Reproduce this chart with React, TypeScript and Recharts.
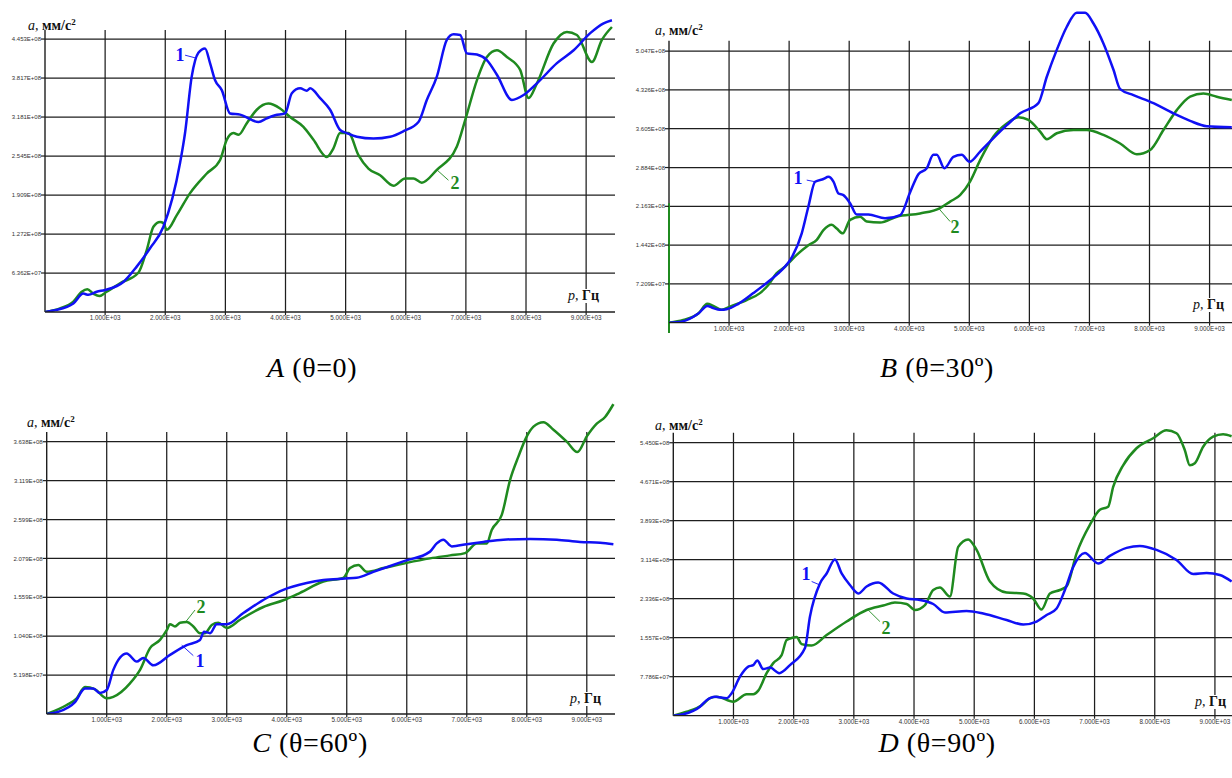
import React from 'react';
import { LineChart, Line, XAxis, YAxis, CartesianGrid, ReferenceLine } from 'recharts';

// Frequency p, Hz; acceleration a in units of 1e8 mm/s^2
type Pt = [number, number];

const X_TICKS = [1000, 2000, 3000, 4000, 5000, 6000, 7000, 8000, 9000];
const X_TICK_LABELS = ['1.000E+03', '2.000E+03', '3.000E+03', '4.000E+03', '5.000E+03', '6.000E+03', '7.000E+03', '8.000E+03', '9.000E+03'];

const A_Y_TICKS = [0.6362, 1.2724, 1.9086, 2.5448, 3.181, 3.8172, 4.4534];
const A_Y_LABELS = ['6.362E+07', '1.272E+08', '1.909E+08', '2.545E+08', '3.181E+08', '3.817E+08', '4.453E+08'];
const B_Y_TICKS = [0.7209, 1.4418, 2.1627, 2.8836, 3.6045, 4.3254, 5.0463];
const B_Y_LABELS = ['7.209E+07', '1.442E+08', '2.163E+08', '2.884E+08', '3.605E+08', '4.326E+08', '5.047E+08'];
const C_Y_TICKS = [0.5198, 1.0396, 1.5594, 2.0792, 2.599, 3.1188, 3.6386];
const C_Y_LABELS = ['5.198E+07', '1.040E+08', '1.559E+08', '2.079E+08', '2.599E+08', '3.119E+08', '3.638E+08'];
const D_Y_TICKS = [0.7786, 1.5572, 2.3358, 3.1144, 3.893, 4.6716, 5.4502];
const D_Y_LABELS = ['7.786E+07', '1.557E+08', '2.336E+08', '3.114E+08', '3.893E+08', '4.671E+08', '5.450E+08'];

const A_BLUE: Pt[] = [[0,0],[166,0.03],[471,0.14],[637,0.30],[720,0.28],[860,0.33],[998,0.36],[1303,0.49],[1525,0.74],[1747,1.04],[1969,1.39],[2246,2.43],[2329,2.92],[2440,3.84],[2551,4.23],[2662,4.30],[2745,4.06],[2829,3.78],[2940,3.62],[3078,3.24],[3245,3.22],[3550,3.10],[3689,3.16],[3827,3.21],[3993,3.24],[4105,3.57],[4243,3.65],[4354,3.61],[4409,3.65],[4576,3.49],[4742,3.30],[4909,2.97],[5020,2.92],[5186,2.86],[5463,2.83],[5740,2.86],[5962,2.95],[6211,3.10],[6350,3.46],[6517,3.84],[6683,4.44],[6794,4.53],[6905,4.52],[7016,4.22],[7183,4.20],[7349,4.11],[7516,3.87],[7765,3.46],[7960,3.54],[8181,3.73],[8514,4.06],[8792,4.27],[9068,4.55],[9290,4.71],[9429,4.76]];
const A_GREEN: Pt[] = [[0,0],[250,0.06],[471,0.17],[611,0.33],[704,0.37],[804,0.30],[904,0.26],[1026,0.33],[1248,0.47],[1553,0.64],[1692,1.01],[1803,1.39],[1914,1.47],[1969,1.45],[2025,1.34],[2192,1.58],[2413,1.94],[2691,2.26],[2912,2.48],[3023,2.81],[3134,2.92],[3218,2.89],[3356,3.08],[3522,3.30],[3716,3.40],[3910,3.32],[4077,3.18],[4298,3.02],[4465,2.81],[4687,2.53],[4797,2.67],[4908,2.92],[5047,2.92],[5213,2.56],[5379,2.34],[5574,2.23],[5796,2.06],[5990,2.18],[6128,2.18],[6267,2.11],[6517,2.32],[6850,2.70],[6988,3.13],[7183,3.78],[7349,4.16],[7516,4.27],[7682,4.16],[7903,3.95],[8042,3.49],[8181,3.73],[8458,4.38],[8680,4.57],[8846,4.52],[9096,4.08],[9262,4.44],[9429,4.65]];

const B_BLUE: Pt[] = [[0,0],[211,0.02],[488,0.17],[638,0.31],[738,0.27],[849,0.24],[960,0.25],[1154,0.35],[1404,0.55],[1682,0.79],[1904,1.01],[2015,1.16],[2210,1.66],[2321,2.16],[2432,2.62],[2571,2.67],[2654,2.71],[2738,2.62],[2821,2.40],[2904,2.37],[3015,2.22],[3126,2.01],[3320,2.01],[3597,1.94],[3850,2.00],[4013,2.42],[4152,2.76],[4291,2.87],[4402,3.12],[4458,3.12],[4585,2.87],[4735,3.08],[4874,3.12],[5002,2.99],[5180,3.18],[5402,3.43],[5624,3.67],[5846,3.89],[6150,4.08],[6290,4.57],[6456,5.07],[6623,5.50],[6789,5.76],[6928,5.76],[7067,5.56],[7233,5.19],[7400,4.70],[7511,4.34],[7733,4.23],[8066,4.08],[8399,3.89],[8676,3.75],[8954,3.65],[9370,3.63]];
const B_GREEN: Pt[] = [[0,0],[238,0.05],[488,0.17],[638,0.35],[738,0.31],[877,0.24],[1015,0.30],[1293,0.42],[1515,0.55],[1654,0.70],[1793,0.92],[1932,1.04],[2126,1.26],[2321,1.44],[2460,1.54],[2571,1.72],[2710,1.82],[2793,1.75],[2893,1.66],[3015,1.91],[3182,1.97],[3293,1.88],[3515,1.86],[3792,1.97],[4180,2.03],[4513,2.13],[4680,2.25],[4846,2.37],[5012,2.62],[5180,3.02],[5402,3.46],[5624,3.70],[5818,3.82],[5985,3.77],[6179,3.55],[6290,3.41],[6456,3.52],[6734,3.58],[6956,3.58],[7233,3.49],[7511,3.33],[7789,3.13],[8010,3.21],[8232,3.58],[8454,3.95],[8676,4.20],[8898,4.26],[9120,4.20],[9370,4.14]];

const C_BLUE: Pt[] = [[0,0],[194,0.03],[472,0.16],[638,0.34],[777,0.34],[888,0.28],[1000,0.32],[1110,0.59],[1333,0.81],[1500,0.70],[1610,0.75],[1777,0.65],[2055,0.79],[2333,0.92],[2555,0.99],[2622,1.10],[2722,1.08],[2833,1.20],[3000,1.20],[3277,1.35],[3666,1.55],[3943,1.66],[4333,1.75],[4610,1.79],[4972,1.81],[5166,1.82],[5443,1.90],[5943,2.04],[6388,2.17],[6500,2.28],[6610,2.33],[6750,2.24],[7000,2.27],[7277,2.30],[7610,2.33],[8055,2.34],[8500,2.33],[8888,2.30],[9222,2.29],[9443,2.27]];
const C_GREEN: Pt[] = [[0,0],[333,0.12],[500,0.21],[638,0.36],[805,0.33],[1000,0.21],[1110,0.23],[1388,0.41],[1555,0.59],[1722,0.88],[1888,0.99],[2000,1.12],[2055,1.20],[2138,1.17],[2222,1.22],[2333,1.23],[2444,1.17],[2555,1.08],[2638,1.08],[2750,1.19],[2861,1.22],[3000,1.15],[3222,1.26],[3610,1.43],[3943,1.52],[4222,1.62],[4610,1.77],[4943,1.82],[5055,1.95],[5194,1.99],[5333,1.90],[5610,1.95],[6000,2.02],[6388,2.08],[6722,2.12],[6971,2.15],[7166,2.28],[7333,2.28],[7416,2.46],[7583,2.66],[7722,3.13],[7860,3.44],[8000,3.71],[8111,3.84],[8277,3.90],[8444,3.80],[8666,3.64],[8843,3.50],[9000,3.71],[9166,3.88],[9305,3.97],[9443,4.14]];

const D_BLUE: Pt[] = [[0,0],[166,0.03],[443,0.18],[554,0.31],[692,0.38],[887,0.35],[970,0.45],[1108,0.78],[1246,0.98],[1329,1.01],[1395,1.10],[1495,0.93],[1606,0.96],[1761,0.85],[1938,1.01],[2188,1.35],[2271,1.98],[2437,2.64],[2548,2.84],[2686,3.12],[2797,2.84],[2935,2.61],[3073,2.44],[3212,2.58],[3405,2.66],[3654,2.44],[3877,2.34],[4098,2.31],[4319,2.23],[4513,2.06],[4873,2.09],[5150,2.04],[5538,1.91],[5814,1.82],[6037,1.88],[6203,2.01],[6369,2.14],[6507,2.51],[6645,2.97],[6839,3.25],[7060,3.04],[7254,3.19],[7532,3.35],[7753,3.39],[8030,3.31],[8362,3.11],[8638,2.83],[8860,2.85],[9082,2.81],[9277,2.68]];
const D_GREEN: Pt[] = [[0,0],[222,0.08],[472,0.21],[610,0.35],[721,0.38],[997,0.28],[1219,0.43],[1329,0.43],[1412,0.50],[1551,0.85],[1661,1.05],[1800,1.21],[1883,1.51],[1993,1.56],[2049,1.57],[2132,1.43],[2298,1.40],[2548,1.61],[2880,1.88],[3212,2.11],[3488,2.20],[3682,2.26],[3877,2.23],[4015,2.11],[4181,2.21],[4319,2.51],[4430,2.56],[4596,2.38],[4734,3.37],[4900,3.52],[5040,3.31],[5261,2.68],[5538,2.46],[5814,2.44],[5980,2.34],[6119,2.12],[6258,2.44],[6424,2.51],[6535,2.58],[6701,3.24],[6922,3.81],[7088,4.11],[7226,4.17],[7309,4.57],[7475,5.00],[7697,5.34],[7973,5.54],[8195,5.70],[8362,5.64],[8500,5.30],[8583,5.00],[8666,5.04],[8804,5.37],[8970,5.57],[9136,5.62],[9277,5.58]];

const BLUE = '#1010f5';
const GREEN = '#1f8a1f';
const GRID = '#1e1e1e';

type Leader = { from: Pt; to: Pt; color: string };

type PanelCfg = {
  key: string; left: number; top: number; width: number; height: number;
  plotLeft: number; plotTop: number; plotBottom: number; plotRight: number;
  xMax: number; yMax: number; gridTop: number;
  yTicks: number[]; yLabels: string[];
  blue: Pt[]; green: Pt[]; leaders: Leader[]; greenAxisSpike?: Pt;
};

const PANELS: PanelCfg[] = [
  { key: 'A', left: 0, top: 0, width: 620, height: 340, plotLeft: 45, plotTop: 17.8, plotBottom: 312, plotRight: 615,
    xMax: 9480, yMax: 4.8, gridTop: 4.6, yTicks: A_Y_TICKS, yLabels: A_Y_LABELS, blue: A_BLUE, green: A_GREEN,
    leaders: [{ from: [2330, 4.19], to: [2524, 4.14], color: BLUE }, { from: [6517, 2.32], to: [6710, 2.15], color: GREEN }] },
  { key: 'B', left: 620, top: 0, width: 620, height: 340, plotLeft: 49, plotTop: 5.2, plotBottom: 322.7, plotRight: 619,
    xMax: 9490, yMax: 5.9, gridTop: 5.24, yTicks: B_Y_TICKS, yLabels: B_Y_LABELS, blue: B_BLUE, green: B_GREEN,
    leaders: [{ from: [2293, 2.65], to: [2432, 2.62], color: BLUE }, { from: [4501, 2.11], to: [4680, 1.88], color: GREEN }],
    greenAxisSpike: [-0.19, 2.22] },
  { key: 'C', left: 0, top: 380, width: 620, height: 350, plotLeft: 46.7, plotTop: 16, plotBottom: 334, plotRight: 615,
    xMax: 9470, yMax: 4.25, gridTop: 3.77, yTicks: C_Y_TICKS, yLabels: C_Y_LABELS, blue: C_BLUE, green: C_GREEN,
    leaders: [{ from: [2305, 1.22], to: [2472, 1.39], color: GREEN }, { from: [2250, 0.92], to: [2443, 0.78], color: BLUE }] },
  { key: 'D', left: 620, top: 380, width: 620, height: 350, plotLeft: 53.3, plotTop: 37.7, plotBottom: 335.7, plotRight: 619,
    xMax: 9400, yMax: 5.95, gridTop: 5.65, yTicks: D_Y_TICKS, yLabels: D_Y_LABELS, blue: D_BLUE, green: D_GREEN,
    leaders: [{ from: [2299, 2.68], to: [2436, 2.61], color: BLUE }, { from: [3239, 2.11], to: [3433, 1.88], color: GREEN }] },
];

const toRows = (pts: Pt[]) => pts.map(([f, a]) => ({ f, a }));

const tickFont = { fontSize: 6, fill: '#333', fontFamily: '"Liberation Sans", Arial, sans-serif' };

function Panel({ cfg }: { cfg: PanelCfg }) {
  const { left, top, width, height, plotLeft, plotTop, plotBottom, plotRight, xMax, yMax, gridTop, yTicks, yLabels } = cfg;
  return (
    <div style={{ position: 'absolute', left, top, width, height }}>
      <LineChart width={width} height={height} margin={{ top: plotTop, right: width - plotRight, bottom: 0, left: 0 }}>
        <CartesianGrid vertical={false} horizontalValues={yTicks} stroke={GRID} strokeWidth={1.25} />
        <XAxis type="number" dataKey="f" domain={[0, xMax]} ticks={X_TICKS} allowDataOverflow
          height={height - plotBottom} tickSize={3} tickMargin={1} interval={0}
          tickFormatter={(v: number) => X_TICK_LABELS[X_TICKS.indexOf(v)] ?? ''}
          tick={{ ...tickFont, fontSize: 6.3 }} axisLine={{ stroke: GRID, strokeWidth: 1.3 }} tickLine={{ stroke: GRID, strokeWidth: 1.2 }} />
        <YAxis type="number" dataKey="a" domain={[0, yMax]} ticks={yTicks} allowDataOverflow width={plotLeft}
          tickSize={4} tickMargin={0} interval={0}
          tickFormatter={(v: number) => yLabels[yTicks.indexOf(v)] ?? ''}
          tick={tickFont} axisLine={false} tickLine={{ stroke: GRID, strokeWidth: 1.2 }} />
        {[0, ...X_TICKS].map((x) => (
          <ReferenceLine key={'v' + x} segment={[{ x, y: 0 }, { x, y: gridTop }]} stroke={GRID} strokeWidth={x === 0 ? 1.4 : 1.25} />
        ))}
        {cfg.greenAxisSpike && (
          <ReferenceLine segment={[{ x: 0, y: cfg.greenAxisSpike[0] }, { x: 0, y: cfg.greenAxisSpike[1] }]}
            stroke={GREEN} strokeWidth={2} ifOverflow="visible" />
        )}
        {cfg.leaders.map((l, i) => (
          <ReferenceLine key={'l' + i} segment={[{ x: l.from[0], y: l.from[1] }, { x: l.to[0], y: l.to[1] }]}
            stroke={l.color} strokeWidth={0.9} />
        ))}
        <Line data={toRows(cfg.green)} dataKey="a" type="monotone" stroke={GREEN} strokeWidth={2.5} dot={false} isAnimationActive={false} />
        <Line data={toRows(cfg.blue)} dataKey="a" type="monotone" stroke={BLUE} strokeWidth={2.5} dot={false} isAnimationActive={false} />
      </LineChart>
    </div>
  );
}

const serif = '"Liberation Serif", "Times New Roman", serif';

function YTitle({ left, top }: { left: number; top: number }) {
  return (
    <div style={{ position: 'absolute', left, top, fontSize: 14, lineHeight: 1, whiteSpace: 'nowrap', fontFamily: serif, color: '#111' }}>
      <i>a</i>, <b>мм/с</b><sup style={{ fontSize: 9, fontWeight: 'bold', verticalAlign: 5 }}>2</sup>
    </div>
  );
}

function XTitle({ left, top }: { left: number; top: number }) {
  return (
    <div style={{ position: 'absolute', left, top, fontSize: 14, lineHeight: 1, whiteSpace: 'nowrap', fontFamily: serif, color: '#111', background: '#fff', padding: '0 1px' }}>
      <i>p</i>, <b>Гц</b>
    </div>
  );
}

function SeriesNum({ x, y, text, color }: { x: number; y: number; text: string; color: string }) {
  return (
    <div style={{ position: 'absolute', left: x, top: y, transform: 'translate(-50%, -50%)', fontSize: 18, lineHeight: 1, fontWeight: 'bold', fontFamily: serif, color }}>
      {text}
    </div>
  );
}

function Caption({ cx, top, letter, rest }: { cx: number; top: number; letter: string; rest: string }) {
  return (
    <div style={{ position: 'absolute', left: cx, top, transform: 'translateX(-50%)', fontSize: 28, lineHeight: 1, whiteSpace: 'nowrap', fontFamily: serif, color: '#000', letterSpacing: 0.6 }}>
      <i>{letter}</i> {rest}
    </div>
  );
}

export default function App() {
  return (
    <div style={{ position: 'absolute', left: 0, top: 0, width: 1232, height: 778, overflow: 'hidden', background: '#fff' }}>
      {PANELS.map((p) => <Panel key={p.key} cfg={p} />)}
      <YTitle left={28} top={18} />
      <YTitle left={655} top={23} />
      <YTitle left={27} top={415} />
      <YTitle left={655} top={418} />
      <XTitle left={567} top={289} />
      <XTitle left={1192} top={298} />
      <XTitle left={569} top={692} />
      <XTitle left={1194} top={695} />
      <SeriesNum x={180} y={55} text="1" color={BLUE} />
      <SeriesNum x={455} y={183} text="2" color={GREEN} />
      <SeriesNum x={798} y={178} text="1" color={BLUE} />
      <SeriesNum x={955} y={227} text="2" color={GREEN} />
      <SeriesNum x={201} y={607} text="2" color={GREEN} />
      <SeriesNum x={200} y={661} text="1" color={BLUE} />
      <SeriesNum x={806} y={574} text="1" color={BLUE} />
      <SeriesNum x={886} y={628} text="2" color={GREEN} />
      <Caption cx={312} top={354} letter="A" rest="(θ=0)" />
      <Caption cx={937} top={354} letter="B" rest="(θ=30º)" />
      <Caption cx={310} top={729} letter="C" rest="(θ=60º)" />
      <Caption cx={937} top={729} letter="D" rest="(θ=90º)" />
    </div>
  );
}
